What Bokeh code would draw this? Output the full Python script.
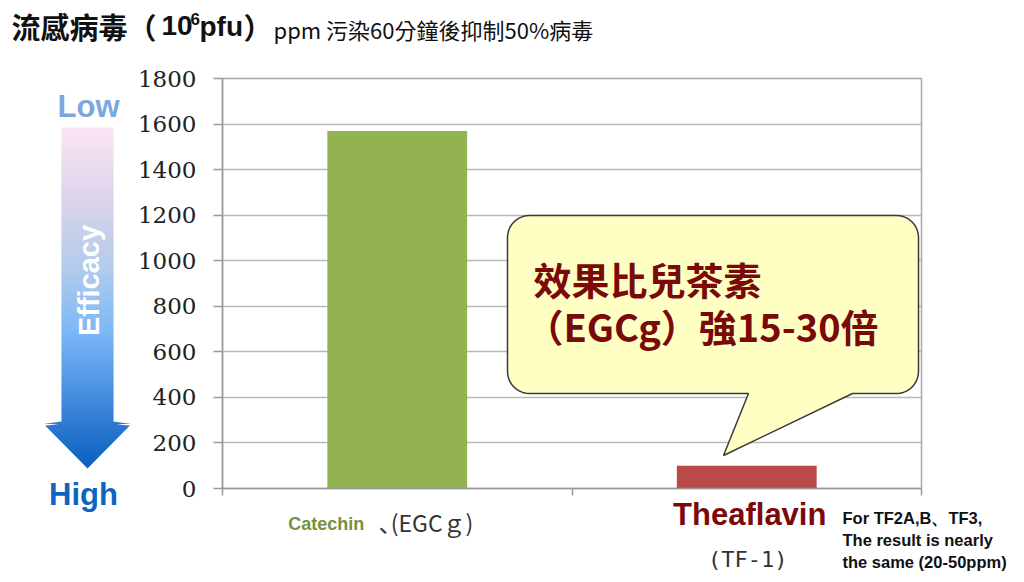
import math
import numpy as np
from bokeh.plotting import figure
from bokeh.models import Range1d, FixedTicker, ColumnDataSource
from bokeh.core.properties import value
from bokeh.embed import file_html
from bokeh.resources import INLINE

# ---- data -------------------------------------------------------------
categories = ["Catechin", "Theaflavin"]
sub_labels = ["､(EGCｇ)", "(TF-1)"]
values = [1570, 100]
bar_colors = ["#93b352", "#b94a47"]
label_colors = ["#76923c", "#7a0a0a"]
y_ticks = [0, 200, 400, 600, 800, 1000, 1200, 1400, 1600, 1800]

title_main = "流感病毒（"
title_num = "10"
title_exp = "6"
title_unit = "pfu"
title_close = "）"
subtitle = "ppm 污染60分鐘後抑制50%病毒"
callout_lines = ["效果比兒茶素", "（EGCg）強15-30倍"]
note_lines = ["For TF2A,B、TF3,", "The result is nearly", "the same (20-50ppm)"]
scale_low, scale_high, scale_name = "Low", "High", "Efficacy"

W, H = 1024, 582
FL, FR, FT, FB = 222, 921, 78, 488   # plot frame edges in page pixels

CJK = value("Noto Sans CJK TC")
SANS = value("Liberation Sans")

p = figure(width=W, height=H, x_range=Range1d(0, len(categories)),
           y_range=Range1d(0, 1800), output_backend="svg", toolbar_location=None,
           min_border_left=FL, min_border_right=W - FR,
           min_border_top=FT, min_border_bottom=H - FB)
p.background_fill_color = "white"
p.border_fill_color = "white"
p.outline_line_color = "#a8a8a8"
p.outline_line_width = 1.5

# page-pixel ranges for decorations drawn around the chart
p.extra_x_ranges = {"px": Range1d(FL, FR)}
p.extra_y_ranges = {"py": Range1d(H - FB, H - FT)}


def py(y):
    return H - y


# ---- axes ---------------------------------------------------------------
p.yaxis.ticker = FixedTicker(ticks=y_ticks)
p.yaxis.minor_tick_line_color = None
p.yaxis.major_tick_in = 0
p.yaxis.major_tick_out = 9
p.yaxis.major_label_standoff = 17
p.yaxis.major_label_text_font = "DejaVu Serif"
p.yaxis.major_label_text_font_size = "23px"
p.yaxis.major_label_text_color = "#222222"
p.yaxis.axis_line_color = "#9a9a9a"
p.yaxis.axis_line_width = 1.5
p.yaxis.major_tick_line_color = "#9a9a9a"
p.yaxis.major_tick_line_width = 1.5

p.xaxis.ticker = FixedTicker(ticks=list(range(len(categories) + 1)))
p.xaxis.major_label_overrides = {i: "" for i in range(len(categories) + 1)}
p.xaxis.minor_tick_line_color = None
p.xaxis.major_tick_in = 0
p.xaxis.major_tick_out = 7
p.xaxis.axis_line_color = "#9a9a9a"
p.xaxis.axis_line_width = 1.5
p.xaxis.major_tick_line_color = "#9a9a9a"
p.xaxis.major_tick_line_width = 1.5

p.xgrid.grid_line_color = None
p.ygrid.grid_line_color = "#b8b8b8"
p.ygrid.grid_line_width = 1.5

# ---- bars ---------------------------------------------------------------
centers = [i + 0.5 for i in range(len(categories))]
src = ColumnDataSource(dict(x=centers, top=values, color=bar_colors))
p.vbar(x="x", top="top", width=0.4, bottom=0, source=src,
       fill_color="color", line_color=None)

# category labels under each bar
p.text(x=[centers[0]], y=[0], text=[categories[0]], x_offset=-109, y_offset=35,
       text_font=SANS, text_font_style="bold", text_font_size="18px",
       text_color=label_colors[0], text_align="left",
       text_baseline="middle", level="overlay")
p.text(x=[centers[0]], y=[0], text=[sub_labels[0]], x_offset=-18, y_offset=33,
       text_font=CJK, text_font_size="23px", text_color="#333333",
       text_align="left", text_baseline="middle", level="overlay")
p.text(x=[centers[1]], y=[0], text=[categories[1]], x_offset=3, y_offset=26,
       text_font=SANS, text_font_style="bold", text_font_size="31px",
       text_color=label_colors[1], text_align="center",
       text_baseline="middle", level="overlay")
p.text(x=[centers[1]], y=[0], text=[sub_labels[1]], x_offset=1, y_offset=71,
       text_font=value("DejaVu Sans Mono"), text_font_size="22px",
       text_color="#333333", text_align="center",
       text_baseline="middle", level="overlay")


def page_text(x, y, s, font, size, style="normal", color="#111111",
              align="left", baseline="middle", angle=0.0):
    p.text(x=[x], y=[py(y)], text=[s], x_range_name="px", y_range_name="py",
           text_font=font, text_font_size=size, text_font_style=style,
           text_color=color, text_align=align, text_baseline=baseline,
           angle=angle, level="overlay")


# side note next to the second category
for i, line in enumerate(note_lines):
    page_text(842, 517 + i * 22, line, SANS, "16.5px", "bold", "#111111")

# ---- title ---------------------------------------------------------------
page_text(11, 25, title_main, CJK, "29px", "bold")
page_text(161, 25, title_num, SANS, "28px", "bold")
page_text(190, 18, title_exp, SANS, "17px", "bold")
page_text(199, 26, title_unit, SANS, "28px", "bold")
page_text(243, 25, title_close, CJK, "29px", "bold")
page_text(273, 28, subtitle, CJK, "22px")

# ---- efficacy arrow with vertical colour gradient --------------------------
stops_y = [127, 200, 270, 330, 380, 423, 468]
stops_c = ["#fbe5f3", "#dbd3ea", "#b0cbec", "#7db8f7", "#5497e6", "#2d7ad3", "#0a5fbd"]
stops_rgb = np.array([[int(c[i:i + 2], 16) for i in (1, 3, 5)] for c in stops_c], float)


def grad(y):
    return "#%02x%02x%02x" % tuple(int(round(np.interp(y, stops_y, stops_rgb[:, k])))
                                   for k in range(3))


cx, shaft_half, head_half, head_y, tip_y = 87, 26, 44.5, 423, 468


def half_width(y):
    if y <= head_y:
        return shaft_half
    return head_half * (tip_y - y) / (tip_y - head_y)


# each strip carries a zero-area spur reaching into the frame so the
# renderer keeps it when culling shapes that lie outside the view
spur_x = FL + 4
xs, ys, cs = [], [], []
step = 2.0
y0 = 127.0
while y0 < tip_y - 1e-9:
    y1 = min(y0 + step, tip_y)
    if y0 < head_y < y1:
        y1 = head_y
    ya, yb = y0, min(y1 + 0.6, tip_y)
    if ya < head_y:
        ha = shaft_half
        hb = shaft_half if yb <= head_y else half_width(yb)
    else:
        ha, hb = half_width(ya), half_width(yb)
    xs.append([cx - ha, cx + ha, spur_x, cx + ha, cx + hb, cx - hb])
    ys.append([py(ya), py(ya), py(ya), py(ya), py(yb), py(yb)])
    cs.append(grad((y0 + y1) / 2))
    y0 = y1

p.patches(xs=xs, ys=ys, fill_color=cs, line_color=None,
          x_range_name="px", y_range_name="py", level="overlay")

page_text(88, 106, scale_low, SANS, "31px", "bold", "#7ba7df", "center", "middle")
page_text(83, 494, scale_high, SANS, "31px", "bold", "#0f63c1", "center", "middle")
page_text(88, 280, scale_name, SANS, "29px", "bold", "#ffffff", "center", "middle",
          angle=math.pi / 2)

# ---- speech bubble callout -------------------------------------------------
bl, br, bt, bb, r = 507, 918, 215, 393, 22
tail = [(852, bb), (723, 455), (748, bb)]


def arc(cxa, cya, a0, a1, n=10):
    return [(cxa + r * math.cos(math.radians(a0 + (a1 - a0) * k / n)),
             cya + r * math.sin(math.radians(a0 + (a1 - a0) * k / n))) for k in range(n + 1)]


pts = []
pts += arc(br - r, bt + r, -90, 0)        # top-right
pts += arc(br - r, bb - r, 0, 90)         # bottom-right
pts += tail
pts += arc(bl + r, bb - r, 90, 180)       # bottom-left
pts += arc(bl + r, bt + r, 180, 270)      # top-left
p.patch(x=[q[0] for q in pts], y=[py(q[1]) for q in pts],
        fill_color="#ffffc4", line_color="#3a3a3a", line_width=1.5,
        x_range_name="px", y_range_name="py", level="overlay")

page_text(533, 278, callout_lines[0], CJK, "38px", "bold", "#7a0a0a", "left", "middle")
page_text(525, 325, callout_lines[1], CJK, "38px", "bold", "#7a0a0a", "left", "middle")

open("out.html", "w").write(file_html(p, INLINE))
